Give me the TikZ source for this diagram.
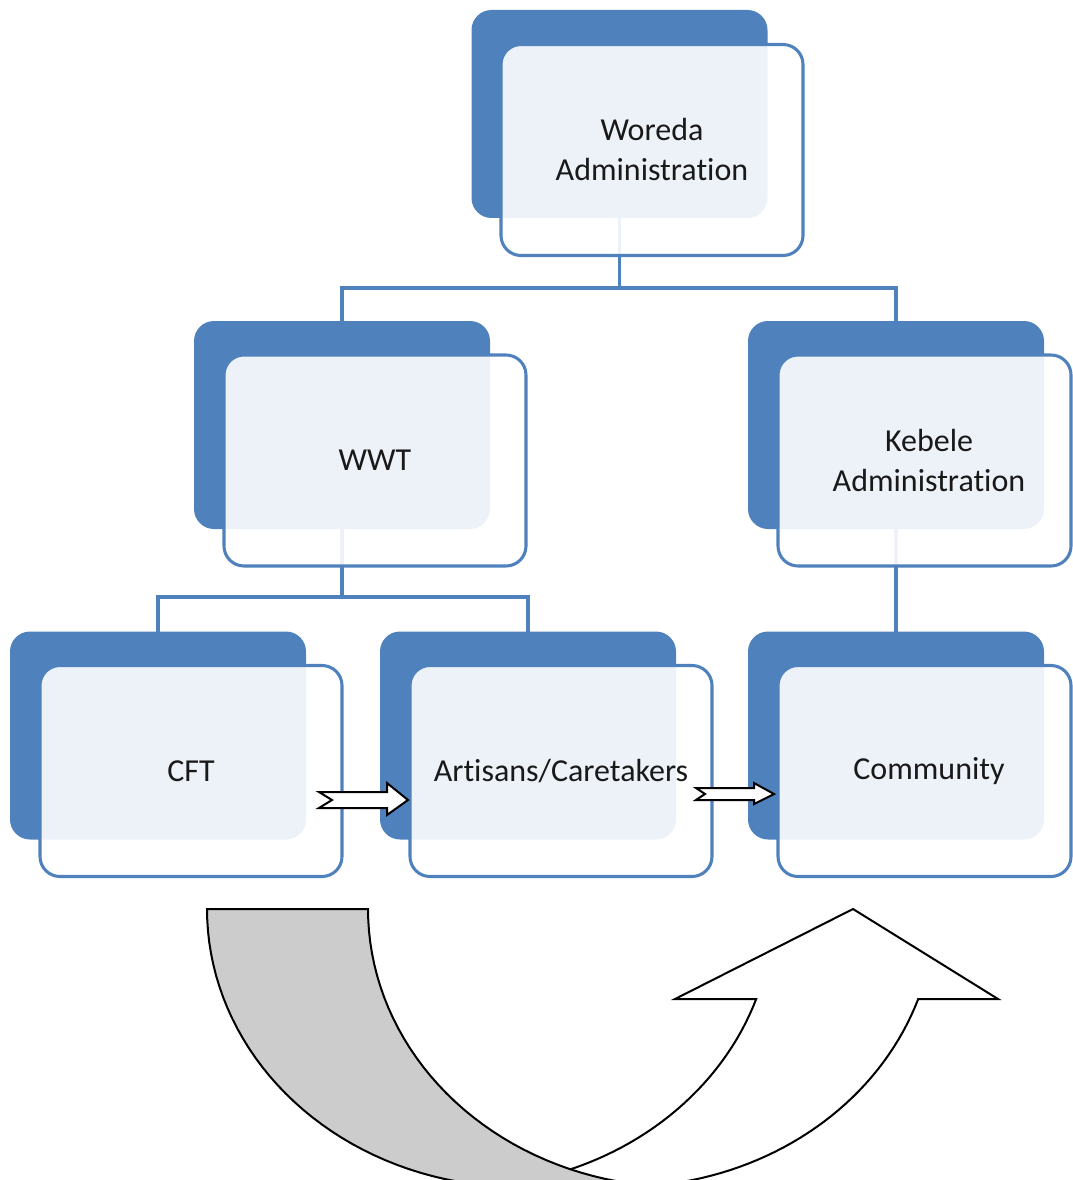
\documentclass[tikz,border=0pt]{standalone}
\usepackage{fontspec}
\setmainfont[Ligatures={NoCommon},Contextuals={NoAlternate}]{Carlito}
\usetikzlibrary{calc,backgrounds}
\definecolor{oblue}{HTML}{4F81BD}
\begin{document}
\begin{tikzpicture}[x=0.75pt,y=-0.75pt,
  darkbox/.style={rectangle, rounded corners=15pt, fill=oblue, minimum width=222pt, minimum height=156pt, inner sep=0pt, outer sep=0pt},
  lightbox/.style={rectangle, rounded corners=15pt, draw=oblue, line width=2.3pt, fill=white, fill opacity=0.9, text opacity=1, minimum width=226.5pt, minimum height=158.25pt, inner sep=0pt, outer sep=0pt, align=center, font=\fontsize{24}{30}\selectfont, text=black!90},
  narrowbox/.style={lightbox, minimum width=219.75pt},
  conn/.style={draw=oblue, line width=2.5pt},
  smallarrow/.style={draw=black, fill=white, line width=1.5pt, line join=miter},
  bigarrow/.style={draw=black, line width=1.5pt}]
\useasboundingbox (0,0) rectangle (1073,1180);
\clip (0,0) rectangle (1073,1180);

% dark back boxes
\node[darkbox] (wd)   at (619.5,114) {};
\node[darkbox] (wwtd) at (342,425) {};
\node[darkbox] (kebd) at (896,425) {};
\node[darkbox] (cftd) at (158,735.5) {};
\node[darkbox] (artd) at (528,735.5) {};
\node[darkbox] (comd) at (896,735.5) {};

% light front boxes
\node[lightbox] (wl)   at (652,150) {Woreda\\Administ\kern0ptration};
\node[lightbox] (wwtl) at (375,460.5) {WWT};
\node[narrowbox] (kebl) at (924.5,460.5) {\hspace*{6.75pt}Kebele\\\hspace*{6.75pt}Administ\kern0ptration};
\node[lightbox] (cftl) at (191,771) {CFT};
\node[lightbox] (artl) at (561,771) {Artisans/Caretakers};
\node[narrowbox] (coml) at (924.5,771) {\hspace*{6.75pt}Community};

% connectors (behind the boxes)
\begin{pgfonlayer}{background}
  \coordinate (j1) at ($(wd.south)+(0,70)$);
  \coordinate (j2) at ($(wwtd.south)+(0,68)$);
  \draw[conn] (wd.south) -- (j1);
  \draw[conn] (wwtd.north) |- (j1) -| (kebd.north);
  \draw[conn] (wwtd.south) -- (j2);
  \draw[conn] (cftd.north) |- (j2) -| (artd.north);
  \draw[conn] (kebd.south) -- (comd.north);
\end{pgfonlayer}

% small notched arrows
\draw[smallarrow] (319,792) -- (387,792) -- (387,783) -- (408,800) -- (387,815) -- (387,808) -- (319,808) -- (332,800) -- cycle;
\draw[smallarrow] (696,788) -- (754,788) -- (754,783) -- (774,794) -- (754,804) -- (754,800) -- (696,800) -- (705,794) -- cycle;

% big curved up arrow: white arrow part
\draw[bigarrow, fill=white, line join=miter]
  plot[domain=18.9:90, samples=40, variable=\t] ({461+312*cos(\t)},{909+278*sin(\t)})
  -- plot[domain=90:18.9, samples=40, variable=\t] ({623+312*cos(\t)},{909+278*sin(\t)})
  -- (998,999) -- (853,909) -- (675,999) -- cycle;
% grey back band
\draw[bigarrow, fill=gray!40]
  plot[domain=180:90, samples=40, variable=\t] ({519+312*cos(\t)},{909+278*sin(\t)})
  -- plot[domain=90:180, samples=40, variable=\t] ({680+312*cos(\t)},{909+278*sin(\t)})
  -- cycle;
\end{tikzpicture}
\end{document}
